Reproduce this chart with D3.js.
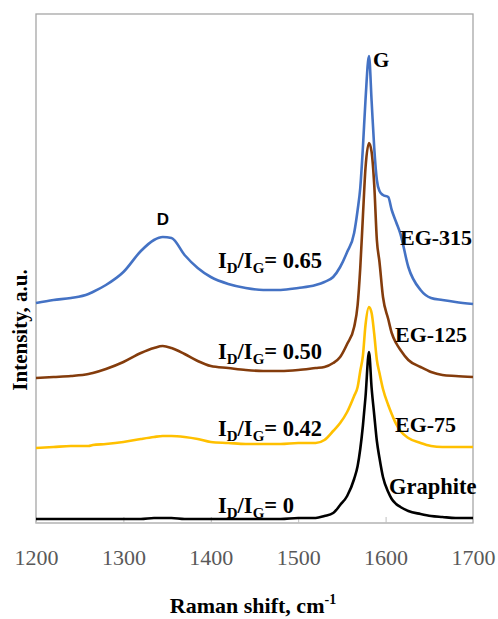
<!DOCTYPE html>
<html><head><meta charset="utf-8">
<script src="https://cdn.jsdelivr.net/npm/d3@7/dist/d3.min.js"></script>
<style>body{margin:0;background:#fff;}svg{display:block;}</style>
</head><body>
<script>
// Raman shift (cm-1)
const shift = [1200,1220,1240,1260,1265,1280,1300,1320,1335,1345,1355,1370,1385,1400,1420,1440,1460,1480,1500,1520,1530,1540,1548,1556,1564,1568,1571,1574,1577,1581,1584,1587,1590,1593,1597,1603,1607,1612,1617,1626,1640,1652,1665,1680,1700];
// Intensity (a.u.), offset spectra
const eg315 = [220,223,225,229,231,238,251,272,283,286,285,268,255,246,239,235,233,233,235,238,241,246,256,271,290,313,335,375,423,467,422,375,343,332,328,326,313,301,289,256,233,225,223,221,219];
const eg125 = [145,146,147,149,150,154,161,170,175,177,175,169,162,157,155,153,152,152,153,155,156,160,166,179,196,218,255,306,355,380,371,338,283,261,226,204,190,180,173,163,156,151,148,147,146];
const eg75 = [75,76,77,77,78,79,81,84,86,87,87,86,84,81,80,79,79,79,80,80,83,92,100,111,127,136,152,167,198,216,210,189,163,150,134,118,109,99,92,85,80,77,76,76,76];
const graphite = [4,4,4,4,4,4,4,4,5,5,5,4,4,4,4,4,4,4,5,5,7,10,18,27,44,57,74,97,126,171,135,108,82,65,46,31,24,19,16,12,9,7,6,5,5];
const xTicks = [1200,1300,1400,1500,1600,1700];
const seriesNames = ["Graphite","EG-75","EG-125","EG-315"];
const ratioLabels = ["0","0.42","0.50","0.65"];

const W = 498, H = 619;
const m = {left:36, right:473, top:14, bottom:523};
const svg = d3.select("body").append("svg").attr("width",W).attr("height",H);

const x = d3.scaleLinear().domain([1200,1700]).range([m.left,m.right]);
const y = d3.scaleLinear().domain([0,509]).range([m.bottom,m.top]);
const serif = "'Liberation Serif','Times New Roman',serif";

// frame
svg.append("rect").attr("x",m.left).attr("y",m.top)
  .attr("width",m.right-m.left).attr("height",m.bottom-m.top)
  .attr("fill","none").attr("stroke","#a6a6a6").attr("stroke-width",1.3);

// x axis (ticks inside, labels below)
const xa = svg.append("g").attr("transform",`translate(0,${m.bottom})`)
  .call(d3.axisBottom(x).tickValues(xTicks).tickSize(-6).tickPadding(26).tickFormat(d3.format("d")));
xa.attr("font-family",serif).attr("font-size",22);
xa.select(".domain").remove();
xa.selectAll("line").attr("stroke","#bfbfbf");
xa.selectAll("text").attr("fill","#595959");

const colors = {"Graphite":"#000000","EG-75":"#FFC000","EG-125":"#843C0C","EG-315":"#4472C4"};
const data = {"Graphite":graphite,"EG-75":eg75,"EG-125":eg125,"EG-315":eg315};
const line = d3.line().x((d,i)=>x(shift[i])).y(d=>y(d)).curve(d3.curveMonotoneX);

seriesNames.forEach(n=>{
  svg.append("path").datum(data[n]).attr("d",line)
    .attr("fill","none").attr("stroke",colors[n]).attr("stroke-width",2.6)
    .attr("stroke-linejoin","round");
});

function t(xp,yp,txt,size,anchor,fam){
  return svg.append("text").attr("x",xp).attr("y",yp).text(txt)
    .attr("font-family",fam||serif).attr("font-weight","bold")
    .attr("font-size",size).attr("text-anchor",anchor||"start").attr("fill","#000");
}
// series labels
t(400,245,"EG-315",22);
t(395,342,"EG-125",22);
t(395,432,"EG-75",22);
t(389,494,"Graphite",22.5);
t(373,67,"G",21);
t(163,225,"D",17,"middle","'Liberation Sans',Arial,sans-serif");

// ID/IG labels
const ratioY = [513,436,359,268];
ratioLabels.forEach((r,i)=>{
  const tx = svg.append("text").attr("x",218).attr("y",ratioY[i])
    .attr("font-family",serif).attr("font-weight","bold").attr("font-size",22.5).attr("fill","#000");
  tx.append("tspan").text("I");
  tx.append("tspan").text("D").attr("font-size",15).attr("dy",5);
  tx.append("tspan").text("/I").attr("dy",-5);
  tx.append("tspan").text("G").attr("font-size",15).attr("dy",5);
  tx.append("tspan").text("= " + r).attr("dy",-5);
});

// axis titles
const xt = svg.append("text").attr("x",253).attr("y",613).attr("text-anchor","middle")
  .attr("font-family",serif).attr("font-weight","bold").attr("font-size",22).attr("fill","#000");
xt.append("tspan").text("Raman shift, cm");
xt.append("tspan").text("-1").attr("font-size",14).attr("dy",-9);

svg.append("text").attr("transform","translate(27,330) rotate(-90)").attr("text-anchor","middle")
  .attr("font-family",serif).attr("font-weight","bold").attr("font-size",21).attr("fill","#000")
  .text("Intensity, a.u.");
</script>
</body></html>
